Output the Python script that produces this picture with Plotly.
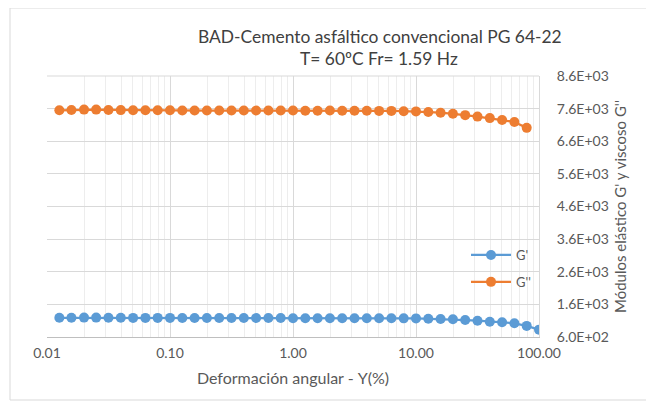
import plotly.graph_objects as go

# ---- data ----
strain_exp = [-1.9 + 0.1 * i for i in range(40)]  # log10 of strain positions (10 per decade)
strain = [round(10 ** e, 4) for e in strain_exp]

g_prime = [1190, 1190, 1195, 1195, 1190, 1190, 1185, 1185, 1185, 1185,
           1180, 1180, 1180, 1180, 1180, 1180, 1180, 1180, 1180,
           1175, 1175, 1175, 1175, 1175, 1175, 1175, 1175, 1175, 1172, 1170,
           1160, 1150, 1145, 1120, 1100, 1070, 1050, 1020, 940, 825]

g_dprime = [7550, 7560, 7570, 7570, 7560, 7555, 7550, 7550, 7550, 7550,
            7545, 7540, 7540, 7540, 7540, 7540, 7540, 7540, 7540,
            7540, 7535, 7535, 7545, 7535, 7535, 7535, 7530, 7530, 7520, 7515,
            7495, 7475, 7445, 7400, 7355, 7310, 7250, 7190, 7010]

x_tickvals = [0.01, 0.1, 1, 10, 100]
x_ticktext = ["0.01", "0.10", "1.00", "10.00", "100.00"]
y_tickvals = [600, 1600, 2600, 3600, 4600, 5600, 6600, 7600, 8600]
y_ticktext = ["6.0E+02", "1.6E+03", "2.6E+03", "3.6E+03", "4.6E+03",
              "5.6E+03", "6.6E+03", "7.6E+03", "8.6E+03"]

title1 = "BAD-Cemento asfáltico convencional PG 64-22"
title2 = "T= 60ºC Fr= 1.59 Hz"
x_title = "Deformación angular - Υ(%)"
y_title = "Módulos elástico G' y viscoso G''"

FONT = "Lato, 'Open Sans', sans-serif"
GRAY = "#595959"
GRID = "#d9d9d9"

minor_vals = [m * 10 ** d for d in range(-2, 2) for m in range(2, 10)]

fig = go.Figure()
fig.add_trace(go.Scatter(x=strain[:len(g_prime)], y=g_prime, name="G'",
                         mode="lines+markers", legendgroup="a",
                         line=dict(color="#5B9BD5", width=2.25),
                         marker=dict(color="#5B9BD5", size=10)))
fig.add_trace(go.Scatter(x=strain[:len(g_dprime)], y=g_dprime, name="G''",
                         mode="lines+markers", legendgroup="b",
                         line=dict(color="#ED7D31", width=2.25),
                         marker=dict(color="#ED7D31", size=10)))

O = 8  # page body margin offset
W, H = 654, 406
L, T = 47 - O, 76 - O
R = W - (539 - O)
B = H - (337 - O)
pw, ph = W - L - R, H - T - B

def px(x):
    return (x - O - L) / pw

def py(y):
    return (H - B - (y - O)) / ph

fig.update_layout(
    width=W, height=H,
    margin=dict(l=L, r=R, t=T, b=B),
    paper_bgcolor="white", plot_bgcolor="white",
    font=dict(family=FONT, color=GRAY, size=12),
    showlegend=True,
    legend=dict(x=px(466), y=py(240), xanchor="left", yanchor="top",
                bgcolor="rgba(0,0,0,0)", font=dict(size=13, color=GRAY),
                itemwidth=40, tracegroupgap=7, traceorder="grouped"),
    xaxis=dict(type="log", range=[-2, 2], tickvals=x_tickvals, ticktext=x_ticktext,
               showgrid=True, gridcolor=GRID, gridwidth=1,
               minor=dict(tickvals=minor_vals, showgrid=True, gridcolor="#ededed", gridwidth=1),
               showline=True, linecolor="#bfbfbf", linewidth=1, mirror=False,
               ticks="", ticklabelstandoff=3, zeroline=False,
               tickfont=dict(size=14, color=GRAY),
               title=dict(text=x_title, font=dict(size=16, color=GRAY), standoff=13)),
    yaxis=dict(side="right", range=[600, 8600], tickvals=y_tickvals, ticktext=y_ticktext,
               showgrid=True, gridcolor=GRID, gridwidth=1,
               showline=True, linecolor="#d9d9d9", linewidth=1,
               ticks="", ticklabelstandoff=14, zeroline=False,
               tickfont=dict(size=14, color=GRAY),
               title=dict(text=y_title, font=dict(size=15, color=GRAY), standoff=7)),
    annotations=[
        dict(text=title1, x=px(380), y=py(36), xref="paper", yref="paper",
             showarrow=False, xanchor="center", yanchor="middle",
             font=dict(size=17.4, color="#404040", family=FONT)),
        dict(text=title2, x=px(379), y=py(59), xref="paper", yref="paper",
             showarrow=False, xanchor="center", yanchor="middle",
             font=dict(size=17.4, color="#404040", family=FONT)),
    ],
    shapes=[
        dict(type="rect", xref="paper", yref="paper",
             x0=px(10), x1=px(648), y0=py(400), y1=py(8),
             line=dict(color="#d9d9d9", width=1), fillcolor="rgba(0,0,0,0)", layer="below"),
        dict(type="line", xref="paper", yref="paper",
             x0=0, x1=1, y0=1, y1=1, line=dict(color=GRID, width=1)),
    ],
)

fig.write_html("out.html")
